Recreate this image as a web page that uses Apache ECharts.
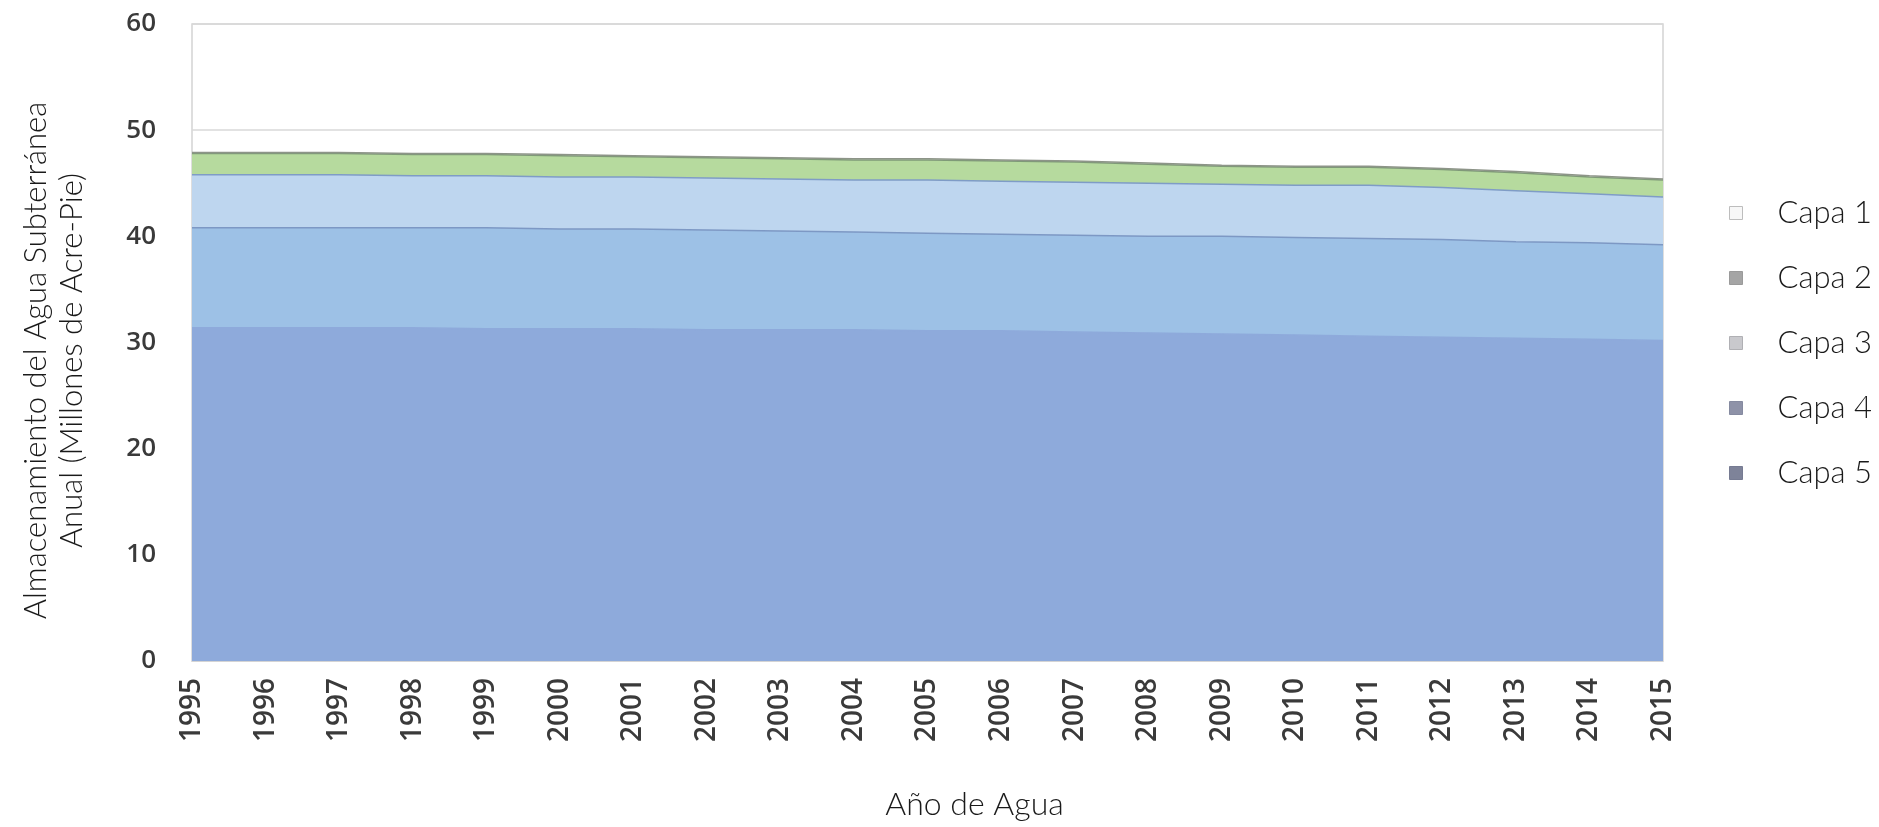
<!DOCTYPE html>
<html>
<head>
<meta charset="utf-8">
<script src="https://cdn.jsdelivr.net/npm/echarts@6/dist/echarts.min.js"></script>
<style>
html,body{margin:0;padding:0;background:#fff;}
#chart{width:1879px;height:827px;}
</style>
</head>
<body>
<div id="chart"></div>
<script>
const years = ['1995','1996','1997','1998','1999','2000','2001','2002','2003','2004','2005','2006','2007','2008','2009','2010','2011','2012','2013','2014','2015'];
const layerNames = ['Capa 1','Capa 2','Capa 3','Capa 4','Capa 5'];
const yTicks = [0,10,20,30,40,50,60];
// Layer thicknesses (millions of acre-feet), stacked bottom (Capa 5) to top (Capa 1)
const capa5 = [31.4,31.4,31.4,31.4,31.3,31.3,31.3,31.2,31.2,31.2,31.1,31.1,31.0,30.9,30.8,30.7,30.6,30.5,30.4,30.3,30.2];
const capa4 = [9.4,9.4,9.4,9.4,9.5,9.4,9.4,9.4,9.3,9.2,9.2,9.1,9.1,9.1,9.2,9.2,9.2,9.2,9.1,9.1,9.0];
const capa3 = [5.0,5.0,5.0,4.9,4.9,4.9,4.9,4.9,4.9,4.9,5.0,5.0,5.0,5.0,4.9,4.9,5.0,4.9,4.8,4.6,4.5];
const capa2 = [2.0,2.0,2.0,2.0,2.0,2.0,1.9,1.9,1.9,1.9,1.9,1.9,1.9,1.8,1.7,1.7,1.7,1.7,1.7,1.6,1.6];
const capa1 = [0.1,0.1,0.1,0.1,0.1,0.1,0.1,0.1,0.1,0.1,0.1,0.1,0.1,0.1,0.1,0.1,0.1,0.1,0.1,0.1,0.1];

const fills = {'Capa 1':'#f3f5ef','Capa 2':'#b6da9e','Capa 3':'#bed6ef','Capa 4':'#9dc1e6','Capa 5':'#8eaadb'};
const edges = {'Capa 1':'#8d9488','Capa 2':'#7f9a78','Capa 3':'#7f9cc6','Capa 4':'#7d98c4','Capa 5':'#8eaadb'};
const legendIcons = {'Capa 1':['#f7f7f7','#bdbdbd'],'Capa 2':['#a5a5a5','#9a9a9a'],'Capa 3':['#c9c9cd','#b0b0b4'],'Capa 4':['#8e92a8','#858aa0'],'Capa 5':['#7e8399','#767b92']};

const dataMap = {'Capa 1':capa1,'Capa 2':capa2,'Capa 3':capa3,'Capa 4':capa4,'Capa 5':capa5};
const stackOrder = ['Capa 5','Capa 4','Capa 3','Capa 2','Capa 1'];

const light = 'Lato, "Liberation Sans", sans-serif';
const tickFont = '"Open Sans", "DejaVu Sans", sans-serif';

const chart = echarts.init(document.getElementById('chart'), null, {renderer:'canvas'});
chart.setOption({
  animation:false,
  backgroundColor:'#ffffff',
  grid:{left:192,right:216,top:24,bottom:166,outerBoundsMode:'none',show:true,borderColor:'#d4d4d4',borderWidth:1.5,backgroundColor:'transparent'},
  legend:{
    orient:'vertical', left:1724, top:190, itemGap:29, itemWidth:13, itemHeight:13,
    icon:'rect',
    data: layerNames.map(n=>({name:n,itemStyle:{color:legendIcons[n][0],borderColor:legendIcons[n][1],borderWidth:1}})),
    textStyle:{fontFamily:light,fontWeight:300,fontSize:31,color:'#1a1a1a',lineHeight:36,padding:[0,0,0,30]}
  },
  xAxis:{
    type:'category', data:years, boundaryGap:false,
    name:'Año de Agua', nameLocation:'middle', nameGap:128,
    nameTextStyle:{fontFamily:light,fontWeight:300,fontSize:32,color:'#1a1a1a',padding:[0,0,0,94]},
    axisLine:{show:true,lineStyle:{color:'#d4d4d4'}},
    axisTick:{show:false},
    axisLabel:{rotate:90,margin:17,fontFamily:tickFont,fontWeight:600,fontSize:28,color:'#3a3a3a',interval:0},
    splitLine:{show:false}
  },
  yAxis:{
    type:'value', min:0, max:60, interval:10,
    name:'Almacenamiento del Agua Subterránea\nAnual (Millones de Acre-Pie)',
    nameLocation:'middle', nameRotate:90, nameGap:102,
    nameTextStyle:{fontFamily:light,fontWeight:300,fontSize:31,color:'#1a1a1a',lineHeight:36,align:'center',padding:[0,36,0,0]},
    axisLine:{show:false}, axisTick:{show:false},
    axisLabel:{margin:36,fontFamily:tickFont,fontWeight:600,fontSize:26,color:'#3a3a3a',
      formatter:v=> yTicks.indexOf(v)>=0 ? String(v) : ''},
    splitLine:{show:true,lineStyle:{color:'#d9d9d9',width:1.5}}
  },
  series: stackOrder.map(n=>({
    name:n, type:'line', stack:'total', data:dataMap[n],
    symbol:'none', smooth:false,
    lineStyle:{width:1.5,color:edges[n]},
    itemStyle:{color:fills[n]},
    areaStyle:{color:fills[n],opacity:1}
  }))
});
</script>
</body>
</html>
